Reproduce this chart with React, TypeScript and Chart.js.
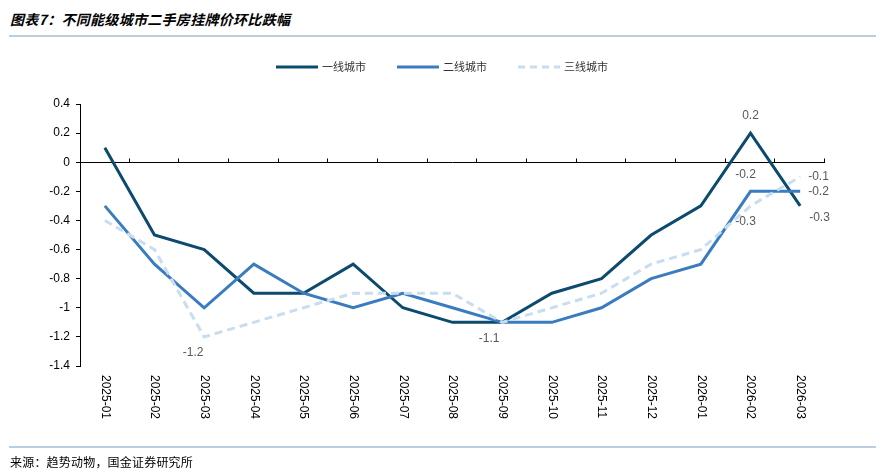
import React, { useEffect, useRef } from "react";
import { Chart, registerables } from "chart.js";

Chart.register(...registerables);

const categories = [
  "2025-01", "2025-02", "2025-03", "2025-04", "2025-05", "2025-06", "2025-07", "2025-08",
  "2025-09", "2025-10", "2025-11", "2025-12", "2026-01", "2026-02", "2026-03",
];
const tier1 = [0.1, -0.5, -0.6, -0.9, -0.9, -0.7, -1.0, -1.1, -1.1, -0.9, -0.8, -0.5, -0.3, 0.2, -0.3];
const tier2 = [-0.3, -0.7, -1.0, -0.7, -0.9, -1.0, -0.9, -1.0, -1.1, -1.1, -1.0, -0.8, -0.7, -0.2, -0.2];
const tier3 = [-0.4, -0.6, -1.2, -1.1, -1.0, -0.9, -0.9, -0.9, -1.1, -1.0, -0.9, -0.7, -0.6, -0.3, -0.1];
const seriesNames = ["一线城市", "二线城市", "三线城市"];
const yMin = -1.4;
const yMax = 0.4;
const yStep = 0.2;

const colors = ["#0c4a6e", "#3a7cc0", "#c9ddf0"];

// annotated labels: [seriesIndex, categoryIndex, placement, dx]
const annotations: [number, number, string, number][] = [
  [2, 2, "below", -11],
  [1, 8, "below", -13],
  [0, 13, "above", 0],
  [1, 13, "above", -5],
  [2, 13, "below", -5],
  [0, 14, "rightBelow", 0],
  [1, 14, "right", 0],
  [2, 14, "right", 0],
];

const fmt = (v: number) => String(Number(v.toFixed(1)));

const overlayPlugin = {
  id: "overlay",
  beforeDatasetsDraw(chart: any) {
    const { ctx, chartArea, scales } = chart;
    const y0 = Math.round(scales.y.getPixelForValue(0)) + 0.5;
    ctx.save();
    ctx.strokeStyle = "#000";
    ctx.lineWidth = 1;
    ctx.beginPath();
    ctx.moveTo(chartArea.left, y0);
    ctx.lineTo(chartArea.right, y0);
    const n = categories.length;
    const w = (chartArea.right - chartArea.left) / n;
    for (let i = 1; i <= n; i++) {
      const x = Math.round(chartArea.left + i * w) - 0.5;
      ctx.moveTo(x, y0);
      ctx.lineTo(x, y0 - 4);
    }
    ctx.stroke();
    ctx.restore();
  },
  afterDatasetsDraw(chart: any) {
    const { ctx, chartArea, scales } = chart;
    ctx.save();
    // x labels rotated clockwise
    ctx.fillStyle = "#000";
    ctx.font = "12px 'Liberation Sans', Arial, sans-serif";
    ctx.textAlign = "left";
    ctx.textBaseline = "middle";
    categories.forEach((c, i) => {
      const x = scales.x.getPixelForValue(i);
      ctx.save();
      ctx.translate(x, chartArea.bottom + 9);
      ctx.rotate(Math.PI / 2);
      ctx.fillText(c, 0, 0);
      ctx.restore();
    });
    // data labels
    const data = [tier1, tier2, tier3];
    ctx.fillStyle = "#595959";
    ctx.font = "12px 'Liberation Sans', Arial, sans-serif";
    annotations.forEach(([s, i, place, dx]) => {
      const v = data[s][i];
      const x = scales.x.getPixelForValue(i) + dx;
      const y = scales.y.getPixelForValue(v);
      const t = fmt(v);
      if (place === "below") {
        ctx.textAlign = "center";
        ctx.textBaseline = "middle";
        ctx.fillText(t, x, y + 16);
      } else if (place === "above") {
        ctx.textAlign = "center";
        ctx.textBaseline = "middle";
        ctx.fillText(t, x, y - 17);
      } else if (place === "right") {
        ctx.textAlign = "left";
        ctx.textBaseline = "middle";
        ctx.fillText(t, x + 8, y);
      } else {
        ctx.textAlign = "left";
        ctx.textBaseline = "middle";
        ctx.fillText(t, x + 9, y + 12);
      }
    });
    // legend
    const items = [
      { x: 276, dash: [] as number[] },
      { x: 397, dash: [] as number[] },
      { x: 518, dash: [7, 5] },
    ];
    const ly = 67;
    items.forEach((it, k) => {
      ctx.strokeStyle = colors[k];
      ctx.lineWidth = 3;
      ctx.lineCap = "butt";
      ctx.setLineDash(it.dash);
      ctx.beginPath();
      ctx.moveTo(it.x, ly);
      ctx.lineTo(it.x + 42, ly);
      ctx.stroke();
      ctx.setLineDash([]);
      ctx.fillStyle = "#333";
      ctx.font = "11px 'Noto Sans CJK SC', sans-serif";
      ctx.textAlign = "left";
      ctx.textBaseline = "middle";
      ctx.fillText(seriesNames[k], it.x + 46, ly);
    });
    ctx.restore();
  },
};

export default function App() {
  const ref = useRef<HTMLCanvasElement | null>(null);
  useEffect(() => {
    document.body.style.margin = "0";
    const data = [tier1, tier2, tier3];
    const chart = new Chart(ref.current as HTMLCanvasElement, {
      type: "line",
      data: {
        labels: categories,
        datasets: data.map((d, k) => ({
          label: seriesNames[k],
          data: d,
          borderColor: colors[k],
          backgroundColor: colors[k],
          borderWidth: 3,
          borderDash: k === 2 ? [8, 5] : [],
          pointRadius: 0,
          tension: 0,
          order: 3 - k,
        })),
      },
      options: {
        animation: false,
        responsive: false,
        maintainAspectRatio: false,
        layout: { padding: { left: 0, right: 51, top: 104, bottom: 107 } },
        plugins: { legend: { display: false }, title: { display: false }, tooltip: { enabled: false } },
        scales: {
          x: {
            offset: true,
            grid: { display: false },
            border: { display: false },
            ticks: { display: false },
            afterFit: (s: any) => { s.height = 0; },
          },
          y: {
            min: yMin,
            max: yMax,
            afterFit: (s: any) => { s.width = 80; },
            grid: { drawOnChartArea: false, drawTicks: true, tickLength: 4, color: "#000" },
            border: { display: true, color: "#000", width: 1 },
            ticks: {
              stepSize: yStep,
              padding: 6,
              color: "#000",
              font: { family: "'Liberation Sans', Arial, sans-serif", size: 12 },
              callback: (v: any) => fmt(Number(v)),
            },
          },
        },
      },
      plugins: [overlayPlugin],
    });
    return () => chart.destroy();
  }, []);

  return (
    <div style={{ position: "relative", width: 876, height: 473, background: "#fff" }}>
      <div
        style={{
          position: "absolute",
          left: 10,
          top: 9,
          fontFamily: "'Noto Sans CJK SC', sans-serif",
          fontStyle: "italic",
          fontWeight: 700,
          fontSize: 14,
          letterSpacing: 0.3,
          lineHeight: "20px",
          color: "#000",
          whiteSpace: "nowrap",
        }}
      >
        图表7：不同能级城市二手房挂牌价环比跌幅
      </div>
      <div style={{ position: "absolute", left: 9, top: 35, width: 867, height: 2, background: "#b9cfe1" }} />
      <canvas ref={ref} width={876} height={473} style={{ position: "absolute", left: 0, top: 0 }} />
      <div style={{ position: "absolute", left: 9, top: 446, width: 867, height: 2, background: "#b9cfe1" }} />
      <div
        style={{
          position: "absolute",
          left: 10,
          top: 453,
          fontFamily: "'Noto Sans CJK SC', sans-serif",
          fontSize: 12,
          letterSpacing: 0.2,
          lineHeight: "18px",
          color: "#000",
          whiteSpace: "nowrap",
        }}
      >
        来源：趋势动物，国金证券研究所
      </div>
    </div>
  );
}
